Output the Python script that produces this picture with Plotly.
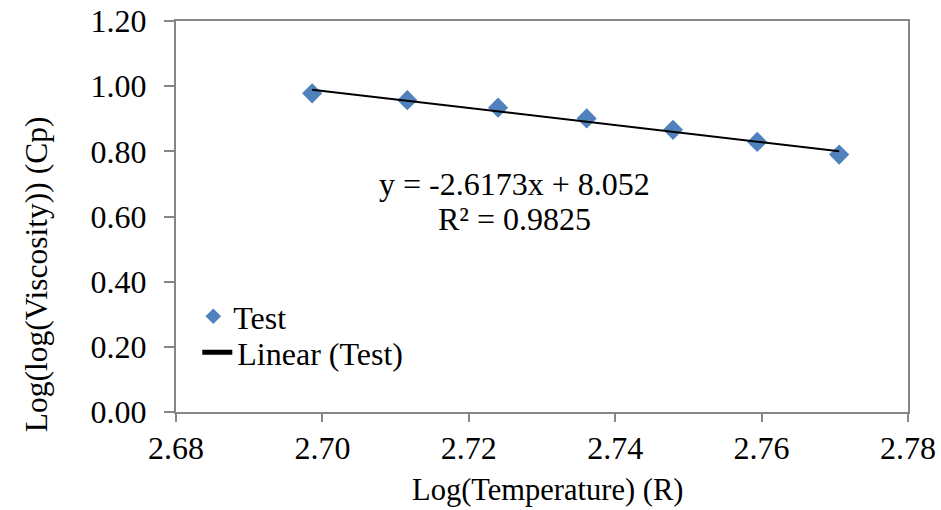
import numpy as np
import plotly.graph_objects as go

# Data
log_temp = [2.6986, 2.7116, 2.7240, 2.7361, 2.7479, 2.7594, 2.7706]
log_log_visc = [0.978, 0.957, 0.934, 0.901, 0.866, 0.829, 0.790]

# Trendline as displayed on the chart
slope = -2.6173
intercept = 8.052
r_squared = 0.9825

x_ticks = [2.68, 2.70, 2.72, 2.74, 2.76, 2.78]
y_ticks = [0.00, 0.20, 0.40, 0.60, 0.80, 1.00, 1.20]

W, H = 941, 510
L, R, T, B = 175.7, 941 - 907.7, 20.7, 510 - 412.2
FF = "Liberation Serif"
axis_gray = "#868686"

trend_x = [min(log_temp), max(log_temp)]
trend_y = [slope * v + intercept for v in trend_x]

fig = go.Figure()
fig.add_trace(go.Scatter(
    x=log_temp, y=log_log_visc, mode="markers", name="Test",
    marker=dict(symbol="diamond", size=15.5, color="#4F81BD", line=dict(width=0)),
    legend="legend",
))
fig.add_trace(go.Scatter(
    x=trend_x, y=trend_y, mode="lines", name="Linear (Test)",
    line=dict(color="black", width=2),
    legend="legend2",
))

pw = W - L - R
ph = H - T - B

def px_to_xpaper(px):
    return (px - L) / pw

def px_to_ypaper(py):
    return (H - B - py) / ph

def f(size=32):
    return dict(family=FF, size=size, color="black")

fig.update_layout(
    width=W, height=H,
    margin=dict(l=L, r=R, t=T, b=B, pad=0, autoexpand=False),
    paper_bgcolor="white", plot_bgcolor="white",
    font=f(),
    showlegend=True,
    legend=dict(
        x=px_to_xpaper(193), y=px_to_ypaper(289), xanchor="left", yanchor="top",
        bgcolor="rgba(0,0,0,0)", font=f(), itemsizing="constant",
    ),
    legend2=dict(
        x=px_to_xpaper(197), y=px_to_ypaper(325), xanchor="left", yanchor="top",
        bgcolor="rgba(0,0,0,0)", font=f(), itemsizing="constant",
    ),
    xaxis=dict(
        range=[2.68, 2.78], tickvals=x_ticks,
        ticktext=[f"{v:.2f}" for v in x_ticks],
        showgrid=False, zeroline=False, automargin=False,
        showline=True, linecolor=axis_gray, linewidth=2, mirror=True,
        ticks="outside", ticklen=8, tickwidth=2, tickcolor=axis_gray,
        tickfont=f(), ticklabelstandoff=-1,
    ),
    yaxis=dict(
        range=[0, 1.2], tickvals=y_ticks,
        ticktext=[f"{v:.2f}" for v in y_ticks],
        showgrid=False, zeroline=False, automargin=False,
        showline=True, linecolor=axis_gray, linewidth=2, mirror=True,
        ticks="outside", ticklen=10, tickwidth=2, tickcolor=axis_gray,
        tickfont=f(), ticklabelstandoff=11,
    ),
    annotations=[
        dict(text="Log(log(Viscosity)) (Cp)", textangle=-90,
             xref="paper", yref="paper", x=px_to_xpaper(37), y=px_to_ypaper(274),
             xanchor="center", yanchor="middle", showarrow=False,
             font=f(31.5)),
        dict(text="Log(Temperature) (R)",
             xref="paper", yref="paper", x=px_to_xpaper(547), y=px_to_ypaper(490),
             xanchor="center", yanchor="middle", showarrow=False,
             font=f(30.5)),
        dict(text=f"y = {slope}x + {intercept}",
             xref="paper", yref="paper", x=px_to_xpaper(514), y=px_to_ypaper(184),
             xanchor="center", yanchor="middle", showarrow=False,
             font=f()),
        dict(text=f"R² = {r_squared}",
             xref="paper", yref="paper", x=px_to_xpaper(514), y=px_to_ypaper(219),
             xanchor="center", yanchor="middle", showarrow=False,
             font=f()),
    ],
)

fig.write_html("out.html", post_script="document.body.style.margin='0px';",
               config={"displayModeBar": False})
